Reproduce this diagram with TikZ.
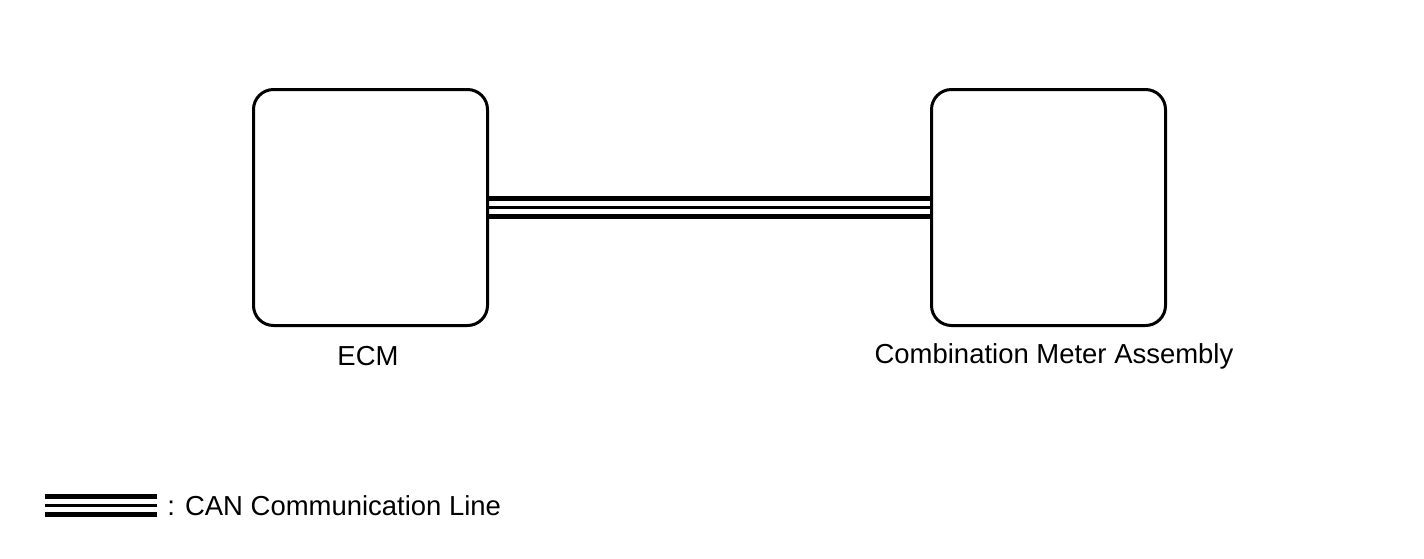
\documentclass[tikz,border=0pt]{standalone}
\usepackage{fontspec}
\setmainfont{Liberation Sans}
\usetikzlibrary{positioning}

\tikzset{
  unit/.style={draw, line width=2.25pt, rounded corners=15pt, minimum width=175.5pt, minimum height=177pt},
  lbl/.style={font=\fontsize{20.6pt}{24pt}\selectfont, inner sep=0pt},
  canthick/.style={line width=4.1pt},
  canthin/.style={line width=1.6pt}
}

\begin{document}
\begin{tikzpicture}[x=0.75pt, y=-0.75pt]
    \useasboundingbox (0,0) rectangle (1424,558);
    % units
    \node[unit] (ecm) at (370.5,207.5) {};
    \node[unit] (cma) at (1048.5,207.5) {};
    \node[lbl] (ecmlbl) at (368,356) {ECM};
    \node[lbl] (cmalbl) at (1054,356) {Combination Meter Assembly};
    % CAN line
    \draw[canthick] ([yshift=6.75pt]ecm.east) -- ([yshift=6.75pt]cma.west);
    \draw[canthin] (ecm.east) -- (cma.west);
    \draw[canthick] ([yshift=-6.75pt]ecm.east) -- ([yshift=-6.75pt]cma.west);
    % legend
    \coordinate (lega) at (45,505.5);
    \coordinate (legb) at (157,505.5);
    \draw[canthick] ([yshift=6.75pt]lega) -- ([yshift=6.75pt]legb);
    \draw[canthin] (lega) -- (legb);
    \draw[canthick] ([yshift=-6.75pt]lega) -- ([yshift=-6.75pt]legb);
    \node[lbl, anchor=west] (legtxt) at (167,506) {: CAN Communication Line};
\end{tikzpicture}
\end{document}
